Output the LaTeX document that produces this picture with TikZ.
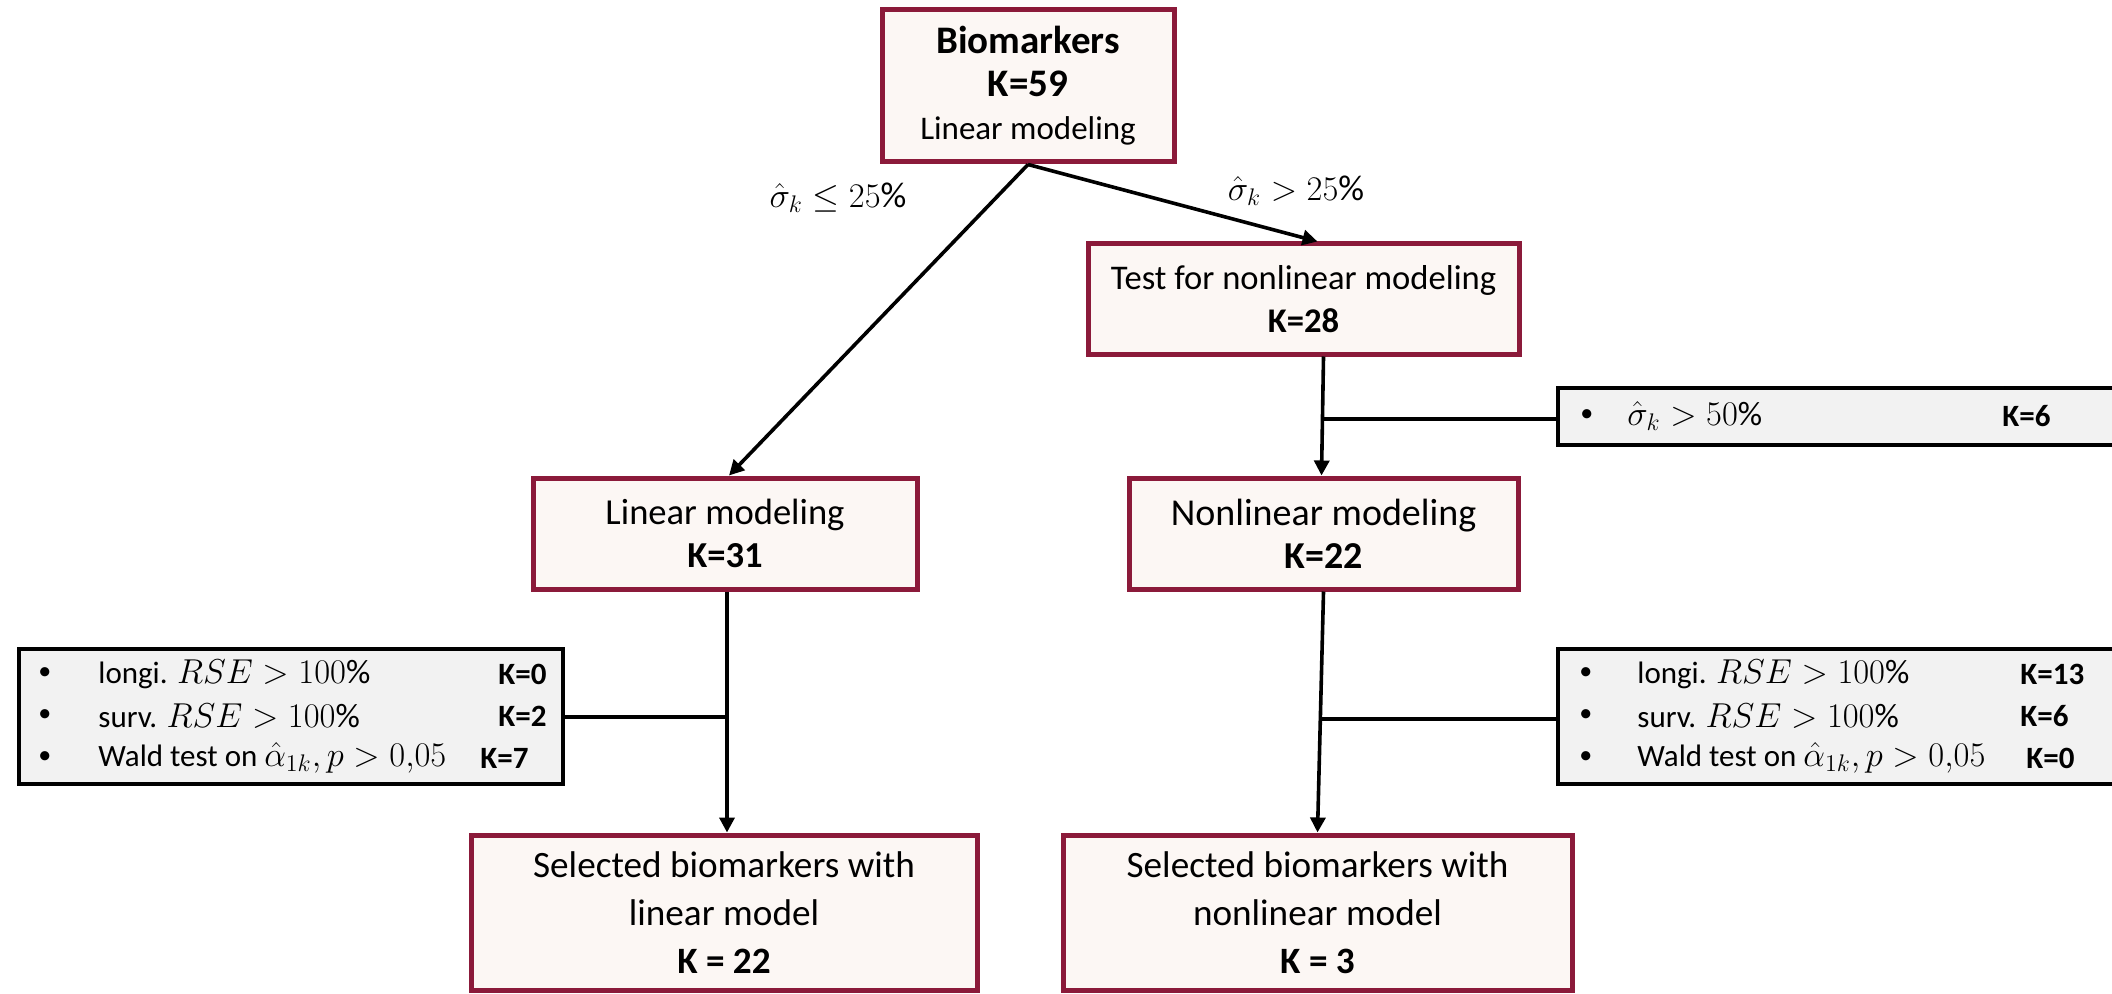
\documentclass[tikz,border=0pt]{standalone}
\usepackage{fontspec}
\setmainfont{Carlito}
\usetikzlibrary{arrows.meta,calc}
\definecolor{boxred}{RGB}{139,26,58}
\definecolor{boxfill}{RGB}{252,247,244}
\definecolor{listfill}{RGB}{242,242,242}
% math set a little larger than the surrounding list text
\newcommand{\bigmath}[1]{{\fontsize{17}{18}\selectfont$#1$}}
\newcommand{\dotmark}{{\fontsize{13}{14}\selectfont\textbullet}}
\begin{document}
\begin{tikzpicture}[x=0.5pt,y=-0.5pt,
  mainbox/.style={draw=boxred,fill=boxfill,line width=2.5pt,align=center,
    inner sep=0pt,font=\fontsize{18.3}{21.5}\selectfont},
  listbox/.style={draw=black,fill=listfill,line width=2pt,inner sep=0pt},
  listtxt/.style={anchor=west,inner sep=0pt,font=\fontsize{15.5}{18}\selectfont},
  conn/.style={line width=1.8pt,-{Triangle[length=7.5pt,width=7.5pt]}},
  plain/.style={line width=1.8pt},
  lbl/.style={inner sep=0pt,font=\fontsize{18}{20}\selectfont}]
\useasboundingbox (0,0) rectangle (2112,994);
\begin{scope}
\clip (0,0) rectangle (2112,994);

% main boxes
\node[mainbox,minimum width=146pt,minimum height=76pt] (top) at (1028,86)
  {{\fontsize{19.5}{24}\selectfont\bfseries Biomarkers}\\[0pt]
   {\fontsize{19.5}{24}\selectfont\bfseries K=59}\\
   {\fontsize{16.5}{20}\selectfont Linear modeling}};
\node[mainbox,minimum width=215.5pt,minimum height=55pt,
  font=\fontsize{17.3}{21.5}\selectfont] (test) at (1303.5,299)
  {Test for nonlinear modeling\\\textbf{K=28}};
\node[mainbox,minimum width=192pt,minimum height=55.5pt] (lin) at (725,533.5)
  {Linear modeling\\\textbf{K=31}};
\node[mainbox,minimum width=194.5pt,minimum height=55.5pt,
  font=\fontsize{19}{21.5}\selectfont] (nonlin) at (1323.5,533.5)
  {Nonlinear modeling\\\textbf{K=22}};
\node[mainbox,minimum width=253pt,minimum height=77.5pt,
  font=\fontsize{18.6}{24}\selectfont] (sellin) at (724,912.5)
  {Selected biomarkers with\\linear model\\\textbf{K = 22}};
\node[mainbox,minimum width=254.5pt,minimum height=77.5pt,
  font=\fontsize{18.6}{24}\selectfont] (selnonlin) at (1317.5,912.5)
  {Selected biomarkers with\\nonlinear model\\\textbf{K = 3}};

% exclusion boxes
\node[listbox,minimum width=291pt,minimum height=28.5pt] (ex1) at (1849,416.5) {};
\node[listbox,minimum width=272pt,minimum height=67.5pt] (ex2) at (291,716.5) {};
\node[listbox,minimum width=291pt,minimum height=67.5pt] (ex3) at (1849,716.5) {};

% exclusion texts
\node[listtxt] (e1b) at (1580,416) {\dotmark};
\node[listtxt] (e1t) at (1627,416) {\bigmath{\hat\sigma_k > 50\%}};
\node[listtxt] (e1k) at (2002,416) {\textbf{K=6}};

\node[listtxt] (e2b1) at (38,674) {\dotmark};
\node[listtxt] (e2t1) at (98,674) {longi. \bigmath{RSE > 100\%}};
\node[listtxt] (e2k1) at (498,674) {\textbf{K=0}};
\node[listtxt] (e2b2) at (38,716) {\dotmark};
\node[listtxt] (e2t2) at (98,716) {surv. \bigmath{RSE > 100\%}};
\node[listtxt] (e2k2) at (498,716) {\textbf{K=2}};
\node[listtxt] (e2b3) at (38,758) {\dotmark};
\node[listtxt] (e2t3) at (98,758) {Wald test on \bigmath{\hat\alpha_{1k}, p > 0{,}05}};
\node[listtxt] (e2k3) at (480,758) {\textbf{K=7}};

\node[listtxt] (e3b1) at (1579,674) {\dotmark};
\node[listtxt] (e3t1) at (1637,674) {longi. \bigmath{RSE > 100\%}};
\node[listtxt] (e3k1) at (2020,674) {\textbf{K=13}};
\node[listtxt] (e3b2) at (1579,716) {\dotmark};
\node[listtxt] (e3t2) at (1637,716) {surv. \bigmath{RSE > 100\%}};
\node[listtxt] (e3k2) at (2020,716) {\textbf{K=6}};
\node[listtxt] (e3b3) at (1579,758) {\dotmark};
\node[listtxt] (e3t3) at (1637,758) {Wald test on \bigmath{\hat\alpha_{1k}, p > 0{,}05}};
\node[listtxt] (e3k3) at (2026,758) {\textbf{K=0}};

% branch labels
\node[lbl] (l1) at (838,198) {$\hat\sigma_k \leq 25\%$};
\node[lbl] (l2) at (1296,191) {$\hat\sigma_k > 25\%$};

% connectors
\draw[conn] (top.south) -- ($(lin.north)+(4,0)$);
\draw[conn] (top.south) -- ($(test.north)+(14,0)$);

\coordinate (b1) at (1323,419);
\draw[conn] ($(test.south)+(20,0)$) -- ($(nonlin.north)+(-2,0)$);
\draw[plain] (b1) -- (b1 -| ex1.west);

\coordinate (b2) at (727,717);
\draw[conn] ($(lin.south)+(2,0)$) -- ($(sellin.north)+(3,0)$);
\draw[plain] (b2) -- (b2 -| ex2.east);

\coordinate (b3) at (1320,719);
\draw[conn] (nonlin.south) -- (selnonlin.north);
\draw[plain] (b3) -- (b3 -| ex3.west);
\end{scope}
\end{tikzpicture}
\end{document}
